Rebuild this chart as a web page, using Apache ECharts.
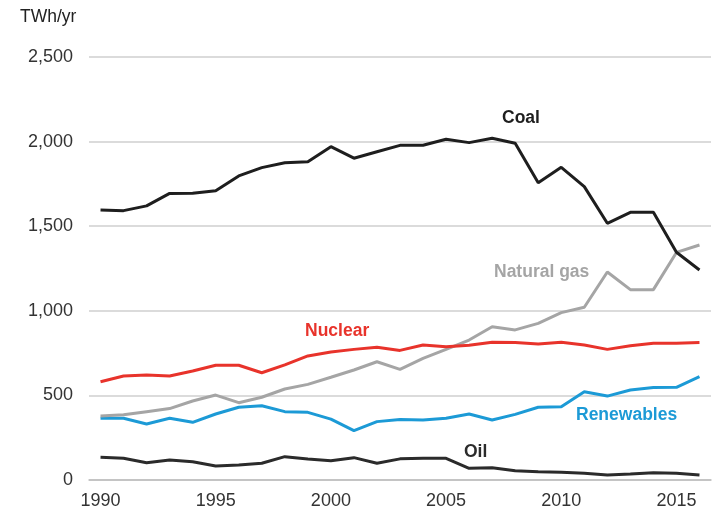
<!DOCTYPE html>
<html>
<head>
<meta charset="utf-8">
<script src="https://cdn.jsdelivr.net/npm/echarts@6/dist/echarts.min.js"></script>
<style>
  html, body { margin: 0; padding: 0; background: #fff; }
  #chart { width: 713px; height: 512px; }
</style>
</head>
<body>
<div id="chart"></div>
<script>
var years = ['1990', '1991', '1992', '1993', '1994', '1995', '1996', '1997', '1998', '1999',
    '2000', '2001', '2002', '2003', '2004', '2005', '2006', '2007', '2008', '2009',
    '2010', '2011', '2012', '2013', '2014', '2015', '2016'];

var coal = [1596, 1592, 1620, 1694, 1695, 1710, 1797, 1846, 1875, 1881,
    1970, 1902, 1940, 1978, 1978, 2014, 1994, 2020, 1990, 1757,
    1848, 1734, 1517, 1582, 1582, 1346, 1241];
var naturalGas = [378, 385, 404, 422, 467, 502, 457, 489, 538, 565,
    607, 650, 699, 654, 719, 772, 827, 906, 887, 926,
    989, 1021, 1229, 1125, 1125, 1345, 1389];
var nuclear = [581, 615, 620, 615, 644, 678, 678, 634, 680, 733,
    756, 772, 784, 766, 798, 788, 796, 814, 812, 804,
    814, 798, 772, 794, 808, 808, 812];
var renewables = [365, 365, 331, 365, 341, 390, 430, 439, 404, 400,
    360, 292, 345, 357, 355, 365, 390, 355, 388, 430,
    433, 522, 496, 532, 546, 548, 611];
var oil = [134, 128, 102, 118, 108, 83, 89, 99, 138, 124,
    114, 132, 99, 125, 128, 128, 69, 73, 55, 49,
    46, 40, 30, 35, 43, 40, 30];

var FONT = '"Liberation Sans", Arial, sans-serif';

function lineSeries(name, data, color) {
    return {
        name: name,
        type: 'line',
        data: data,
        symbol: 'none',
        smooth: false,
        lineStyle: { color: color, width: 3 },
        itemStyle: { color: color }
    };
}

function textItem(text, x, y, color, weight) {
    return {
        type: 'text',
        left: x,
        top: y,
        style: {
            text: text,
            fill: color,
            fontSize: 17.5,
            fontWeight: weight,
            fontFamily: FONT
        }
    };
}

var myChart = echarts.init(document.getElementById('chart'));

var option = {
    backgroundColor: '#fff',
    animation: false,
    grid: { left: 89, right: 2, top: 57, bottom: 32 },
    xAxis: {
        type: 'category',
        data: years,
        boundaryGap: true,
        axisLine: { lineStyle: { color: '#bdbdbd', width: 1.5 } },
        axisTick: { interval: 4, length: 6, lineStyle: { color: '#bdbdbd', width: 1.5 } },
        axisLabel: { interval: 4, color: '#333', fontSize: 18, fontFamily: FONT, margin: 12 },
        splitLine: { show: false }
    },
    yAxis: {
        type: 'value',
        min: 0,
        max: 2500,
        interval: 500,
        axisLine: { show: false },
        axisTick: { show: false },
        axisLabel: {
            color: '#333',
            fontSize: 18,
            fontFamily: FONT,
            margin: 16,
            formatter: function (v) {
                return v.toLocaleString('en-US');
            }
        },
        splitLine: { lineStyle: { color: '#cfcfcf', width: 1.5 } }
    },
    series: [
        lineSeries('Oil', oil, '#2b2b2b'),
        lineSeries('Renewables', renewables, '#1c9ad6'),
        lineSeries('Natural gas', naturalGas, '#a5a5a5'),
        lineSeries('Nuclear', nuclear, '#e8332b'),
        lineSeries('Coal', coal, '#1e1e1e')
    ],
    graphic: [
        textItem('TWh/yr', 20, 8, '#222', 'normal'),
        textItem('Coal', 502, 109, '#1e1e1e', 'bold'),
        textItem('Natural gas', 494, 263, '#a5a5a5', 'bold'),
        textItem('Nuclear', 305, 322, '#e8332b', 'bold'),
        textItem('Renewables', 576, 406, '#1c9ad6', 'bold'),
        textItem('Oil', 464, 443, '#2b2b2b', 'bold')
    ]
};

myChart.setOption(option);
</script>
</body>
</html>
